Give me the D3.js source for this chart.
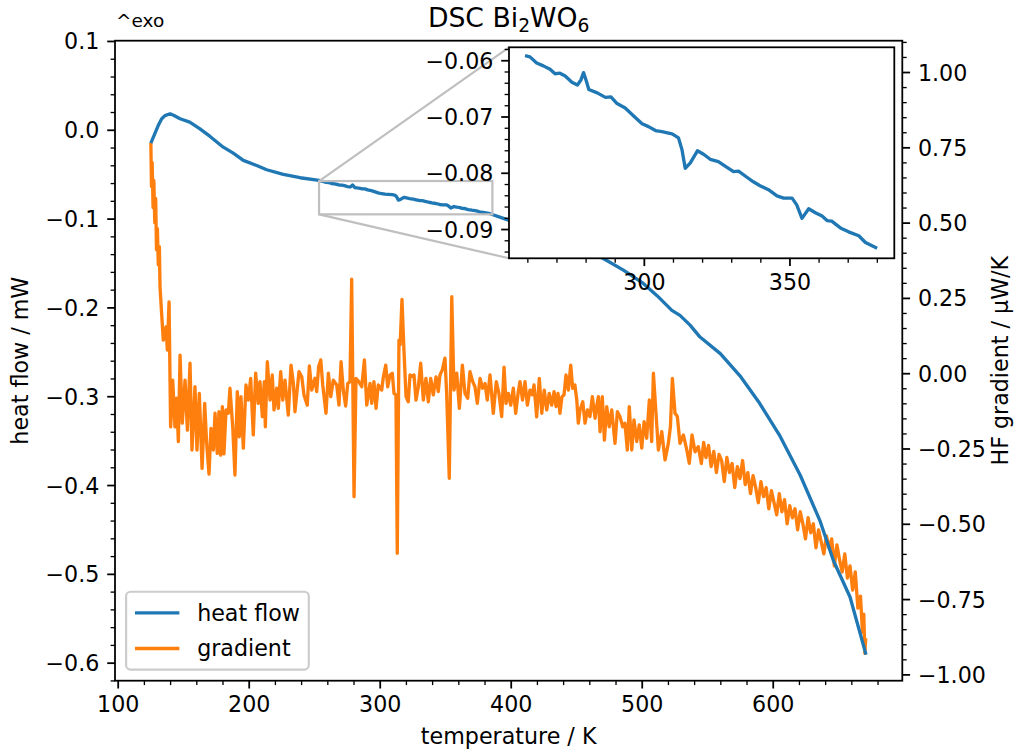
<!DOCTYPE html>
<html><head><meta charset="utf-8">
<script src="https://cdn.jsdelivr.net/npm/d3@7"></script>
<style>body{margin:0;background:#fff}svg{display:block}text{font-family:"DejaVu Sans",sans-serif;fill:#000}</style>
</head><body><svg id="c" width="1024" height="751"></svg>
<script>
// ---------------- data ----------------
const heatT = [125.3,131,133.6,136.1,140,143,147.6,155,162.8,170.5,180.6,188.2,195.9,206.1,213.7,226.4,239.2,253.7,
  259.2,260.9,263.2,265.5,267.8,269.5,271.2,273,275.3,277.2,278.4,279.3,280.2,281.1,284,286.8,288.7,290.8,293.6,296.5,299.4,
  301.6,304,306.2,309.7,311.9,313.1,314.2,315.9,318.4,320.5,322.8,325.6,327.9,330.8,332.5,335.4,337.6,339.9,342.8,345.7,348,
  350.9,352.5,354.3,356.6,358.9,361.2,362.9,364.5,367.5,370.3,373.8,376.1,380.1,
  384.2,395,409.6,425,440.2,449,458,470.7,486,501.2,511.5,523,529.2,536.9,544.5,560,575,590,605.6,621,636,646.3,659,671.2];
const heatV = [-0.015,0.005,0.0124,0.016,0.018,0.016,0.0124,0.0086,0.001,-0.0075,-0.0196,-0.0263,-0.0345,-0.0402,-0.045,-0.0503,-0.054,-0.057,
  -0.0592,-0.0594,-0.0605,-0.061,-0.0616,-0.0624,-0.0623,-0.0628,-0.0639,-0.0644,-0.0635,-0.0622,-0.0636,-0.0652,-0.0658,-0.0666,-0.0665,-0.0677,-0.0685,-0.0699,-0.0713,
  -0.0718,-0.0725,-0.0727,-0.0731,-0.0738,-0.0759,-0.0792,-0.0783,-0.0761,-0.0767,-0.0776,-0.078,-0.0788,-0.0798,-0.0797,-0.0808,-0.0816,-0.0823,-0.083,-0.0841,-0.0845,
  -0.0845,-0.0857,-0.0881,-0.0864,-0.0871,-0.0877,-0.0885,-0.0886,-0.0898,-0.0905,-0.0912,-0.0924,-0.0934,
  -0.0945,-0.1001,-0.1077,-0.116,-0.1246,-0.1265,-0.1358,-0.145,-0.158,-0.173,-0.1865,-0.2034,-0.209,-0.22,-0.2334,-0.252,-0.277,-0.308,-0.345,-0.389,-0.44,-0.485,-0.526,-0.591];

const gradT = [125.3,125.8,126.3,127,127.6,128.3,129,129.6,130.3,131,131.8,132.3,133.5,134.8,136.9,137.9,139.2,140.4,142,143.7,145,146.3,147.6,149.3,151.4,153.2,155.2,156.7,159,160.5,162.3,164.4,166.4,167.9,169.7,171.2,173,174.3,176,177.3,178.6,179.9,181.1,182.7,184.4,185.7,187.8,189.5,191.3,192.8,194.1,195.9,197.9,199.7,201.5,203.5,205.3,207.3,208.6,210.4,211.9,212.7,214.2,216.3,218,219.3,221.4,222.6,224.4,226,227.7,230.2,232.3,234.1,235.3,238.4,240.5,242.2,244.7,246.3,248.1,250.6,251.9,253.4,255,256.5,259,260.8,262.6,264.6,267.2,268.9,270.5,272.2,274,275.6,277.3,278.6,280.4,281.9,284,286.3,288.3,290.1,292.6,293.9,295.6,297.2,298.9,301.5,302.8,304.6,306.1,307.9,309.6,310.9,312.4,313.4,314.7,315.6,317,318.5,320.1,321.8,323.1,324.6,326.2,327.7,329.5,331.3,333.3,335.3,337.1,338.9,340.9,343,344.7,346,347.8,349.8,351.1,353.1,355,356.7,358.8,360.8,363.1,365.1,367.2,368.9,371,372.7,374.5,376.6,378.5,380.4,382.1,384.2,
  386.7,389,391,393.1,394.9,396.4,398.2,400,402,403.8,405.8,407.1,409,410.9,412.7,414.7,416.4,417.8,419.8,421.8,423.7,425.6,427.5,429.4,431.3,433.1,434.6,436.1,437.6,439.1,440.7,442.2,444,445.8,447.3,449,450.4,451.6,452.9,455,456.7,458.6,460.5,462.3,464.4,465.6,466.9,468.2,469.9,471.5,473.3,475.2,477.1,479.6,481.4,483.4,485.5,487.2,489,490.5,492.4,494.1,496.2,498.1,500,501.8,503.8,505.8,507.6,508.9,510.9,512.7,515.3,517.8,520.3,521.9,523.4,525.4,527.2,529.2,531.8,534.4,536.3,538.4,540.7,543.2,
  545.5,547.3,549,551,553,555,557,559,561,563,565,567,569,571,573,575,577,579,581,583,585,587,589,591,593,595,597,599,601,603,605,607,609,611,613,615,617,619,621,623,625,627,629,631,633,635,637,639,641,643,645,647,649,651,653,655,657,659,661,663,665,667,668.5,669.5,670.3,671];
const gradV = [0.765,0.62,0.70,0.55,0.64,0.50,0.58,0.41,0.48,0.36,0.42,0.287,0.20,0.110,0.154,0.077,0.237,-0.178,-0.023,-0.178,-0.083,-0.227,0.060,-0.166,-0.023,-0.189,0.033,-0.255,-0.045,-0.255,-0.067,-0.316,-0.100,-0.233,-0.335,-0.183,-0.255,-0.133,-0.266,-0.128,-0.272,-0.111,-0.268,-0.122,-0.133,-0.050,-0.178,-0.338,-0.061,-0.211,-0.078,-0.249,-0.039,-0.089,-0.017,-0.205,0.000,-0.100,-0.028,-0.144,-0.028,-0.178,0.038,-0.089,-0.006,-0.122,-0.050,-0.117,0.005,-0.089,-0.023,-0.139,0.027,-0.034,-0.128,0.005,-0.012,-0.072,-0.106,0.024,-0.056,-0.017,-0.061,0.022,0.044,-0.039,-0.133,0.000,-0.078,-0.023,-0.039,-0.106,0.038,-0.056,-0.109,-0.034,-0.028,0.312,-0.410,-0.017,-0.028,-0.045,0.044,-0.106,-0.034,-0.100,-0.028,-0.117,-0.039,-0.056,-0.012,0.027,-0.045,-0.006,0.000,-0.067,-0.072,-0.598,0.110,0.095,0.245,0.077,-0.078,-0.095,-0.006,-0.010,-0.006,-0.089,-0.045,0.033,-0.089,-0.017,-0.095,-0.017,-0.072,-0.012,-0.061,-0.006,0.011,0.050,-0.067,-0.349,0.254,-0.056,0.000,-0.117,0.027,-0.067,-0.083,0.005,-0.028,-0.045,-0.100,-0.017,-0.050,-0.034,-0.089,-0.006,
  -0.133,-0.028,-0.067,-0.144,0.020,-0.100,-0.067,-0.106,-0.050,-0.133,-0.061,-0.028,-0.089,-0.028,-0.106,-0.056,-0.072,-0.039,-0.145,-0.017,-0.133,-0.056,-0.122,-0.067,-0.106,-0.061,-0.111,-0.067,-0.133,-0.078,-0.072,-0.006,-0.056,0.027,-0.050,-0.039,-0.089,-0.166,-0.122,-0.095,-0.166,-0.122,-0.144,-0.078,-0.150,-0.111,-0.078,-0.194,-0.078,-0.222,-0.111,-0.178,-0.122,-0.233,-0.128,-0.144,-0.178,-0.166,-0.255,-0.111,-0.255,-0.155,-0.227,-0.172,-0.249,-0.161,-0.216,-0.089,-0.227,0.000,-0.133,-0.255,-0.194,-0.288,-0.233,-0.178,-0.017,-0.133,-0.144,-0.233,-0.205,-0.255,-0.299,-0.205,-0.261,-0.244,
  -0.30,-0.23,-0.28,-0.24,-0.31,-0.26,-0.33,-0.27,-0.29,-0.36,-0.28,-0.33,-0.30,-0.38,-0.31,-0.35,-0.29,-0.37,-0.33,-0.40,-0.34,-0.38,-0.43,-0.36,-0.41,-0.38,-0.45,-0.39,-0.43,-0.47,-0.40,-0.46,-0.42,-0.50,-0.44,-0.48,-0.45,-0.52,-0.46,-0.50,-0.55,-0.48,-0.53,-0.50,-0.58,-0.52,-0.56,-0.60,-0.54,-0.58,-0.55,-0.64,-0.57,-0.62,-0.66,-0.60,-0.68,-0.64,-0.72,-0.66,-0.78,-0.74,-0.86,-0.80,-0.93,-0.88];

const xTicks = [100,200,300,400,500,600];
const yLeftTicks = [0.1,0.0,-0.1,-0.2,-0.3,-0.4,-0.5,-0.6];
const yRightTicks = [1.00,0.75,0.50,0.25,0.00,-0.25,-0.50,-0.75,-1.00];
const insetXTicks = [300,350];
const insetYTicks = [-0.06,-0.07,-0.08,-0.09];
const insetTRange = [259,381];
const labels = {title:"DSC Bi", x:"temperature / K", yl:"heat flow / mW", yr:"HF gradient / μW/K", exo:"^exo"};
const seriesNames = ["heat flow","gradient"];
const colors = ["#1f77b4","#ff7f0e"];

// ---------------- layout ----------------
const svg = d3.select("#c");
const FS = 22.2, LW = 3.33, SW = 1.78;
const M = {l:115, r:902.3, t:40.7, b:680.7};
const I = {l:509, r:894.3, t:47.3, b:258.3};
const x = d3.scaleLinear().domain([97.94,698.9]).range([M.l,M.r]);
const yL = d3.scaleLinear().domain([-0.6203,0.1003]).range([M.b,M.t]);
const yR = d3.scaleLinear().domain([-1.021,1.104]).range([M.b,M.t]);
const xi = d3.scaleLinear().domain([253.7,386.0]).range([I.l,I.r]);
const yi = d3.scaleLinear().domain([-0.0952,-0.0577]).range([I.b,I.t]);

const minus = s => s.replace("-","\u2212");
const range = (a,b,s) => { const o=[]; for(let v=a; v<=b+1e-9; v+=s) o.push(+v.toFixed(6)); return o; };
const isMajor = (v,arr) => arr.some(m=>Math.abs(m-v)<1e-9);

function axis(gen, scale, majors, minors, fmt, tx, ty, dyAttr) {
  const gm = svg.append("g").attr("transform",`translate(${tx},${ty})`)
    .call(gen(scale).tickValues(minors.filter(v=>!isMajor(v,majors))).tickFormat("").tickSize(4.4).tickSizeOuter(0));
  gm.select(".domain").remove();
  gm.selectAll(".tick line").attr("stroke","#000").attr("stroke-width",1.33);
  const g = svg.append("g").attr("transform",`translate(${tx},${ty})`)
    .call(gen(scale).tickValues(majors).tickFormat(fmt).tickSize(7.8).tickPadding(7.8).tickSizeOuter(0));
  g.select(".domain").remove();
  g.attr("font-size",FS).attr("font-family","DejaVu Sans");
  g.selectAll(".tick line").attr("stroke","#000").attr("stroke-width",SW);
  g.selectAll(".tick text").attr("fill","#000");
  if (dyAttr) g.selectAll(".tick text").attr("dy",dyAttr);
  return g;
}

// clip paths
const defs = svg.append("defs");
defs.append("clipPath").attr("id","cm").append("rect").attr("x",M.l).attr("y",M.t).attr("width",M.r-M.l).attr("height",M.b-M.t);
defs.append("clipPath").attr("id","ci").append("rect").attr("x",I.l).attr("y",I.t).attr("width",I.r-I.l).attr("height",I.b-I.t);

// lines
const heat = heatT.map((t,i)=>({t, v:heatV[i]}));
const grad = gradT.map((t,i)=>({t, v:gradV[i]}));
const plot = svg.append("g").attr("clip-path","url(#cm)");
plot.append("path").datum(grad).attr("fill","none").attr("stroke",colors[1]).attr("stroke-width",LW).attr("stroke-linejoin","round")
  .attr("d", d3.line().x(d=>x(d.t)).y(d=>yR(d.v)));
plot.append("path").datum(heat).attr("fill","none").attr("stroke",colors[0]).attr("stroke-width",LW).attr("stroke-linejoin","round")
  .attr("d", d3.line().x(d=>x(d.t)).y(d=>yL(d.v)));

// axes (main)
axis(d3.axisBottom, x, xTicks, range(100,680,20), d=>String(d), 0, M.b, null);
axis(d3.axisLeft, yL, yLeftTicks, range(-0.62,0.1,0.02), d=>minus(d3.format(".1f")(d)), M.l, 0, "0.36em");
axis(d3.axisRight, yR, yRightTicks, range(-1.0,1.1,0.05), d=>minus(d3.format(".2f")(d)), M.r, 0, "0.36em");
svg.append("rect").attr("x",M.l).attr("y",M.t).attr("width",M.r-M.l).attr("height",M.b-M.t)
  .attr("fill","none").attr("stroke","#000").attr("stroke-width",SW);

// zoom indicator
const zx0 = x(xi.domain()[0]), zx1 = x(xi.domain()[1]), zy0 = yL(yi.domain()[1]), zy1 = yL(yi.domain()[0]);
const grey = "#bfbfbf";
svg.append("rect").attr("x",zx0).attr("y",zy0).attr("width",zx1-zx0).attr("height",zy1-zy0)
  .attr("fill","none").attr("stroke",grey).attr("stroke-width",2.2);
svg.append("line").attr("x1",zx0).attr("y1",zy0).attr("x2",I.l).attr("y2",I.t).attr("stroke",grey).attr("stroke-width",2.2);
svg.append("line").attr("x1",zx0).attr("y1",zy1).attr("x2",I.l).attr("y2",I.b).attr("stroke",grey).attr("stroke-width",2.2);

// inset
svg.append("rect").attr("x",I.l).attr("y",I.t).attr("width",I.r-I.l).attr("height",I.b-I.t).attr("fill","#fff");
const heatIn = heat.filter(d=>d.t>=insetTRange[0] && d.t<=insetTRange[1]);
svg.append("g").attr("clip-path","url(#ci)").append("path").datum(heatIn).attr("fill","none").attr("stroke",colors[0])
  .attr("stroke-width",LW).attr("stroke-linejoin","round").attr("d", d3.line().x(d=>xi(d.t)).y(d=>yi(d.v)));
axis(d3.axisBottom, xi, insetXTicks, range(260,380,10), d=>String(d), 0, I.b, null);
axis(d3.axisLeft, yi, insetYTicks, range(-0.094,-0.058,0.002), d=>minus(d3.format(".2f")(d)), I.l, 0, "0.36em");
svg.append("rect").attr("x",I.l).attr("y",I.t).attr("width",I.r-I.l).attr("height",I.b-I.t)
  .attr("fill","none").attr("stroke","#000").attr("stroke-width",SW);

// titles and labels
const tt = svg.append("text").attr("x",(M.l+M.r)/2).attr("y",27.4).attr("text-anchor","middle").attr("font-size",26.7);
tt.append("tspan").text(labels.title);
tt.append("tspan").attr("font-size",18.7).attr("dy",5).text("2");
tt.append("tspan").attr("dy",-5).text("WO");
tt.append("tspan").attr("font-size",18.7).attr("dy",5).text("6");
svg.append("text").attr("x",M.l+1).attr("y",27.4).attr("font-size",18.5).text(labels.exo);
svg.append("text").attr("x",(M.l+M.r)/2).attr("y",743.5).attr("text-anchor","middle").attr("font-size",FS).text(labels.x);
svg.append("text").attr("transform",`translate(28,${(M.t+M.b)/2}) rotate(-90)`).attr("text-anchor","middle").attr("font-size",FS).text(labels.yl);
svg.append("text").attr("transform",`translate(1008,${(M.t+M.b)/2}) rotate(-90)`).attr("text-anchor","middle").attr("font-size",FS).text(labels.yr);

// legend
const pad = 0.4*FS, rowH = 24.5, sp = 0.5*FS, hl = 2*FS, htp = 0.8*FS;
const lg = svg.append("g");
const frame = lg.append("rect");
const lx = M.l + 0.5*FS, lb = M.b - 0.5*FS;
const lh = 2*rowH + sp + 2*pad, ly = lb - lh;
let maxW = 0;
seriesNames.forEach((n,i)=>{
  const cy = ly + pad + rowH/2 + i*(rowH+sp);
  lg.append("line").attr("x1",lx+pad).attr("x2",lx+pad+hl).attr("y1",cy).attr("y2",cy).attr("stroke",colors[i]).attr("stroke-width",LW);
  const t = lg.append("text").attr("x",lx+pad+hl+htp).attr("y",cy).attr("dy","0.36em").attr("font-size",FS).text(n);
  maxW = Math.max(maxW, t.node().getComputedTextLength());
});
frame.attr("x",lx).attr("y",ly).attr("width",pad+hl+htp+maxW+pad).attr("height",lh).attr("rx",4.4)
  .attr("fill","#fff").attr("fill-opacity",0.8).attr("stroke","#cccccc").attr("stroke-width",2.2);
</script></body></html>
